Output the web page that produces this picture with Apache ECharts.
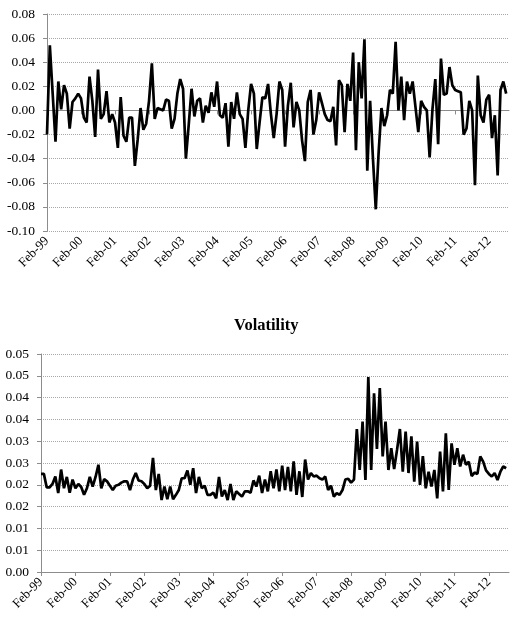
<!DOCTYPE html>
<html>
<head>
<meta charset="utf-8">
<title>Returns and volatility</title>
<script src="https://cdn.jsdelivr.net/npm/echarts@6/dist/echarts.min.js"></script>
<style>
  html, body { margin: 0; padding: 0; background: #fff; }
  #chart { width: 516px; height: 621px; }
</style>
</head>
<body>
<div id="chart"></div>
<script>
// monthly categories, Feb-99 .. Sep-12
var years = ['99','00','01','02','03','04','05','06','07','08','09','10','11','12'];
var monthNames = ['Jan','Feb','Mar','Apr','May','Jun','Jul','Aug','Sep','Oct','Nov','Dec'];
var months = [];
for (var y = 0; y < years.length; y++) {
  for (var m = 0; m < 12; m++) {
    if (y === 0 && m === 0) continue;
    if (y === years.length - 1 && m > 8) break;
    months.push(monthNames[m] + '-' + years[y]);
  }
}

// monthly returns (top panel)
var returns = [
  -0.020, 0.054, 0.014, -0.026, 0.024, 0.001, 0.021, 0.014, -0.015, 0.007,
  0.010, 0.014, 0.010, -0.006, -0.010, 0.028, 0.008, -0.022, 0.034, -0.007,
  -0.003, 0.016, -0.010, -0.003, -0.010, -0.031, 0.011, -0.021, -0.026, -0.006,
  -0.006, -0.046, -0.024, 0.002, -0.016, -0.011, 0.008, 0.039, -0.007, 0.002,
  0.001, 0.000, 0.009, 0.008, -0.015, -0.007, 0.014, 0.026, 0.018, -0.040,
  -0.012, 0.018, -0.005, 0.008, 0.010, -0.010, 0.004, -0.002, 0.015, 0.003,
  0.024, -0.004, -0.006, 0.006, -0.030, 0.007, -0.007, 0.015, -0.003, -0.007,
  -0.031, 0.000, 0.022, 0.014, -0.032, -0.010, 0.011, 0.010, 0.022, -0.003,
  -0.023, -0.003, 0.024, 0.017, -0.030, 0.004, 0.023, -0.014, 0.007, 0.000,
  -0.025, -0.042, 0.007, 0.017, -0.020, -0.008, 0.015, 0.006, -0.003, -0.008,
  -0.009, 0.003, -0.029, 0.025, 0.021, -0.018, 0.022, 0.008, 0.048, -0.033,
  0.040, 0.010, 0.059, -0.050, 0.008, -0.040, -0.082, -0.035, 0.002, -0.013,
  -0.004, 0.017, 0.014, 0.057, 0.000, 0.028, -0.008, 0.024, 0.014, 0.024,
  0.003, -0.018, 0.008, 0.003, 0.000, -0.039, 0.001, 0.026, -0.028, 0.043,
  0.013, 0.014, 0.036, 0.021, 0.017, 0.016, 0.015, -0.020, -0.015, 0.008,
  0.000, -0.062, 0.029, -0.004, -0.010, 0.009, 0.013, -0.023, -0.004, -0.054,
  0.017, 0.024, 0.014
];

// monthly volatility (bottom panel)
var volatility = [
  0.0225, 0.0225, 0.0194, 0.0194, 0.0202, 0.0219, 0.0181, 0.0235, 0.0192, 0.0218,
  0.0182, 0.0212, 0.0192, 0.0202, 0.0195, 0.0177, 0.0192, 0.0218, 0.0196, 0.0218,
  0.0246, 0.0192, 0.0213, 0.0208, 0.0198, 0.0188, 0.0198, 0.0200, 0.0205, 0.0208,
  0.0208, 0.0188, 0.0212, 0.0227, 0.0210, 0.0208, 0.0202, 0.0192, 0.0198, 0.0262,
  0.0188, 0.0225, 0.0165, 0.0196, 0.0167, 0.0196, 0.0167, 0.0177, 0.0188, 0.0215,
  0.0215, 0.0233, 0.0200, 0.0238,
  0.0181, 0.0218, 0.0192, 0.0198, 0.0177, 0.0177, 0.0182, 0.0169, 0.0218, 0.0173,
  0.0188, 0.0165, 0.0202, 0.0165, 0.0185, 0.0179, 0.0173, 0.0185, 0.0185, 0.0182,
  0.0210, 0.0196, 0.0221, 0.0181, 0.0212, 0.0185, 0.0231, 0.0192, 0.0235, 0.0185,
  0.0244, 0.0188, 0.0241, 0.0185, 0.0254, 0.0177, 0.0231, 0.0172, 0.0258, 0.0212,
  0.0227, 0.0219, 0.0221, 0.0215, 0.0212, 0.0219, 0.0188, 0.0198, 0.0173, 0.0181,
  0.0177, 0.0188, 0.0212, 0.0214, 0.0205, 0.0212,
  0.0328, 0.0234, 0.0345, 0.0211, 0.0447, 0.0234, 0.0410, 0.0282, 0.0422, 0.0265,
  0.0345, 0.0234, 0.0284, 0.0236, 0.0280, 0.0328, 0.0230, 0.0322, 0.0227, 0.0311,
  0.0207, 0.0299, 0.0200, 0.0266, 0.0192, 0.0230, 0.0196, 0.0234, 0.0169, 0.0276,
  0.0185, 0.0318, 0.0188, 0.0295, 0.0246, 0.0284, 0.0242, 0.0269, 0.0246, 0.0253,
  0.0220, 0.0228, 0.0225, 0.0265, 0.0253, 0.0233, 0.0225, 0.0219, 0.0227, 0.0211,
  0.0230, 0.0242, 0.0238
];

var FONT = '"Liberation Serif", "Times New Roman", serif';

function xAxisFor(gridIndex) {
  return {
    type: 'category',
    gridIndex: gridIndex,
    data: months,
    boundaryGap: false,
    axisLine: { lineStyle: { color: '#8c8c8c', width: 1 } },
    axisTick: { interval: 11, length: 4, lineStyle: { color: '#8c8c8c' } },
    axisLabel: {
      interval: 11, rotate: 45, margin: 8,
      fontFamily: FONT, fontSize: 13, color: '#000'
    },
    splitLine: { show: false }
  };
}

function yAxisFor(gridIndex, min, max, step, fmt) {
  return {
    type: 'value',
    gridIndex: gridIndex,
    min: min, max: max, interval: step,
    axisLine: { show: true, lineStyle: { color: '#8c8c8c', width: 1 } },
    axisTick: { show: true, length: 4, lineStyle: { color: '#8c8c8c' } },
    axisLabel: { formatter: fmt, margin: 12, fontFamily: FONT, fontSize: 13.5, color: '#000' },
    splitLine: { lineStyle: { type: 'dotted', color: '#a8a8a8', width: 1 } }
  };
}

var chart = echarts.init(document.getElementById('chart'), null, { renderer: 'canvas' });
chart.setOption({
  animation: false,
  backgroundColor: '#fff',
  grid: [
    { left: 47, right: 7, top: 14, height: 217 },
    { left: 41, right: 7, top: 354, height: 218 }
  ],
  graphic: [{
    type: 'text', left: 234, top: 317,
    style: { text: 'Volatility', font: 'bold 16.5px ' + FONT, fill: '#000' }
  }],
  xAxis: [xAxisFor(0), xAxisFor(1)],
  yAxis: [
    yAxisFor(0, -0.1, 0.08, 0.02, function (v) { return v.toFixed(2); }),
    yAxisFor(1, 0, 0.05, 0.005, function (v) {
      return (Math.round(v * 100 + 1e-9) / 100).toFixed(2);
    })
  ],
  series: [
    {
      type: 'line', xAxisIndex: 0, yAxisIndex: 0, data: returns,
      symbol: 'none', lineStyle: { color: '#000', width: 2.7 }
    },
    {
      type: 'line', xAxisIndex: 1, yAxisIndex: 1, data: volatility,
      symbol: 'none', lineStyle: { color: '#000', width: 2.7 }
    }
  ]
});
</script>
</body>
</html>
